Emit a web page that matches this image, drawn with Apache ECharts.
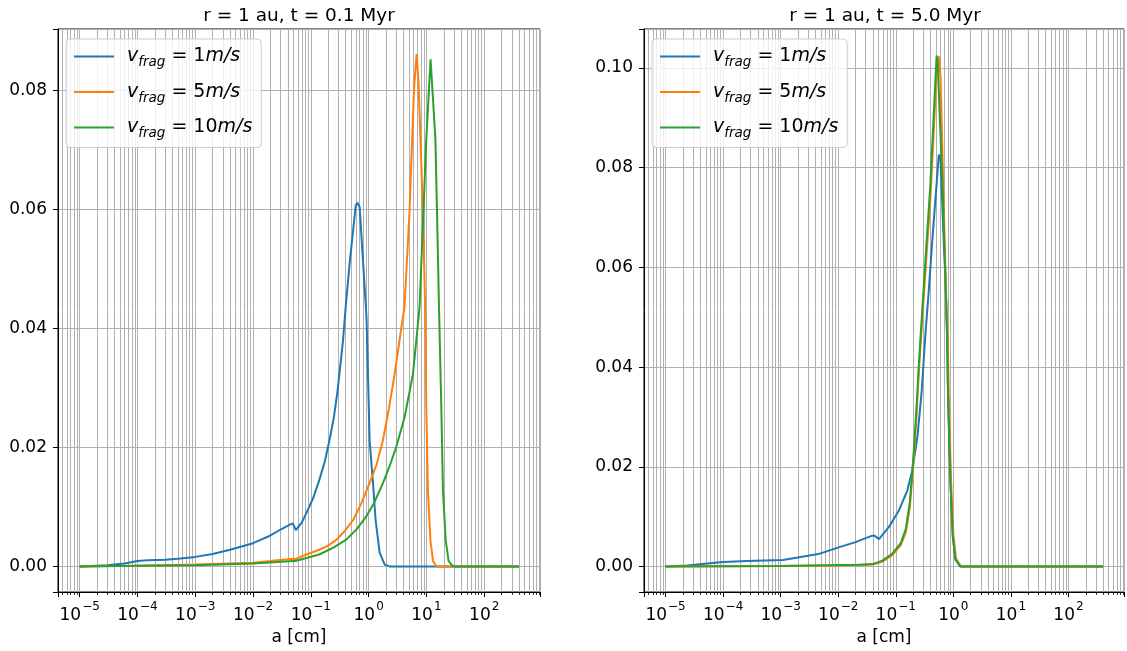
<!DOCTYPE html>
<html><head><meta charset="utf-8">
<script src="https://cdn.jsdelivr.net/npm/echarts@6/dist/echarts.min.js"></script>
<style>html,body{margin:0;padding:0;background:#fff}#c{width:1127px;height:651px}</style>
</head><body><div id="c"></div>
<script>
// ---------------- data ----------------
const titles = ['r = 1 au, t = 0.1 Myr', 'r = 1 au, t = 5.0 Myr'];
const vfrag = ['1', '5', '10'];
const colors = ['#1f77b4', '#ff7f0e', '#2ca02c'];
const xAxisName = 'a [cm]';

// t = 0.1 Myr
const a_t01_v1 = [1e-5, 3e-5, 6e-5, 1e-4, 1.5e-4, 3e-4, 5e-4, 1e-3, 2e-3, 4e-3, 1e-2, 2e-2, 3e-2, 4.5e-2, 4.9e-2, 5.5e-2, 7e-2, 8.4e-2, 0.11, 0.14, 0.174, 0.21, 0.25, 0.29, 0.36, 0.40, 0.47, 0.56, 0.60, 0.64, 0.68, 0.70, 0.75, 0.92, 1.04, 1.19, 1.32, 1.55, 1.9, 2.3, 400];
const y_t01_v1 = [0, 0.0002, 0.0005, 0.0009, 0.00105, 0.0011, 0.0013, 0.0016, 0.0021, 0.0028, 0.0039, 0.0052, 0.0062, 0.0071, 0.0072, 0.0061, 0.0074, 0.0090, 0.0115, 0.0145, 0.0176, 0.0212, 0.0250, 0.0295, 0.0379, 0.0435, 0.051, 0.058, 0.0607, 0.0611, 0.0609, 0.0604, 0.0556, 0.0418, 0.0212, 0.0140, 0.0078, 0.0023, 0.0003, 0, 0];

const a_t01_v5 = [1e-5, 1e-4, 1e-3, 1e-2, 2e-2, 4.9e-2, 5.4e-2, 7e-2, 0.14, 0.2, 0.28, 0.39, 0.54, 0.74, 1.04, 1.38, 1.77, 2.24, 2.82, 3.68, 4.17, 5.1, 6.1, 6.76, 7.3, 8.7, 9.6, 9.95, 10.6, 11.7, 13.0, 14.8, 400];
const y_t01_v5 = [0, 0.0001, 0.0003, 0.0006, 0.0009, 0.0013, 0.0012, 0.0017, 0.0028, 0.0035, 0.0045, 0.0060, 0.0078, 0.0105, 0.0140, 0.0172, 0.0212, 0.0265, 0.0323, 0.0401, 0.0435, 0.0596, 0.0802, 0.0861, 0.0813, 0.0596, 0.0418, 0.0268, 0.0129, 0.0045, 0.0009, 0, 0];

const a_t01_v10 = [1e-5, 1e-4, 1e-3, 1e-2, 4.9e-2, 5.4e-2, 0.14, 0.25, 0.41, 0.63, 0.91, 1.26, 1.77, 2.34, 3.01, 4.2, 5.85, 7.6, 8.5, 9.95, 11.8, 12.3, 14.3, 15.6, 16.5, 18.1, 19.3, 21.5, 24.2, 28.8, 400];
const y_t01_v10 = [0, 0.0001, 0.0002, 0.0005, 0.0009, 0.0009, 0.0020, 0.0032, 0.0045, 0.0063, 0.0084, 0.0108, 0.0140, 0.0170, 0.0201, 0.0251, 0.0323, 0.0435, 0.0551, 0.0718, 0.0852, 0.0824, 0.0718, 0.0551, 0.0435, 0.0268, 0.0129, 0.0045, 0.0009, 0, 0];

// t = 5.0 Myr
const a_t5_v1 = [1e-5, 2.4e-5, 6.5e-5, 1e-4, 2.6e-4, 1.1e-3, 4.5e-3, 1.05e-2, 2e-2, 3e-2, 3.94e-2, 4.3e-2, 5.1e-2, 7.65e-2, 0.114, 0.159, 0.194, 0.237, 0.282, 0.33, 0.366, 0.436, 0.56, 0.60, 0.676, 0.733, 0.78, 0.81, 0.893, 0.98, 1.09, 1.33, 400];
const y_t5_v1 = [0, 0.0002, 0.0007, 0.0009, 0.0011, 0.0013, 0.0025, 0.0039, 0.0049, 0.0057, 0.0062, 0.0062, 0.0055, 0.0080, 0.0113, 0.0153, 0.0193, 0.0259, 0.0352, 0.0472, 0.0538, 0.0662, 0.0826, 0.0815, 0.0660, 0.0570, 0.0460, 0.0339, 0.0166, 0.0060, 0.0014, 0, 0];

const a_t5_v5 = [1e-5, 1e-4, 1e-3, 1e-2, 4e-2, 5.86e-2, 8.73e-2, 0.122, 0.149, 0.175, 0.199, 0.227, 0.253, 0.29, 0.40, 0.52, 0.56, 0.60, 0.67, 0.74, 0.80, 0.83, 0.91, 1.0, 1.11, 1.36, 400];
const y_t5_v5 = [0, 0.00005, 0.0001, 0.0002, 0.0004, 0.0010, 0.0023, 0.0043, 0.0068, 0.0118, 0.0195, 0.0295, 0.0395, 0.0500, 0.0740, 0.1005, 0.1023, 0.0980, 0.0760, 0.0560, 0.0460, 0.0350, 0.0175, 0.0065, 0.0016, 0, 0];

const a_t5_v10 = [1e-5, 1e-4, 1e-3, 1e-2, 2e-2, 4e-2, 5.86e-2, 8.73e-2, 0.122, 0.149, 0.175, 0.199, 0.227, 0.253, 0.29, 0.397, 0.512, 0.535, 0.65, 0.733, 0.78, 0.81, 0.893, 0.98, 1.09, 1.33, 400];
const y_t5_v10 = [0, 0.00005, 0.0001, 0.0003, 0.0003, 0.0005, 0.0012, 0.0026, 0.0047, 0.0075, 0.0128, 0.0208, 0.0310, 0.0410, 0.0520, 0.0763, 0.1025, 0.1010, 0.0760, 0.0570, 0.0460, 0.0339, 0.0166, 0.0060, 0.0014, 0, 0];

// ---------------- chart ----------------
const FONT = 'DejaVu Sans';
const TICK_FS = 17;
const panels = [
  { a: [a_t01_v1, a_t01_v5, a_t01_v10], y: [y_t01_v1, y_t01_v5, y_t01_v10], ymin: -0.0043, ymax: 0.0903 },
  { a: [a_t5_v1, a_t5_v5, a_t5_v10], y: [y_t5_v1, y_t5_v5, y_t5_v10], ymin: -0.0051, ymax: 0.1078 }
];
const gridLeft = [58, 644];
const gridWidth = 482;
const gridTop = 29, gridHeight = 567;
const xMin = 4.22e-6, xMax = 923;
const seriesNames = vfrag.map(v => 'vfrag=' + v + 'm/s');
const gridColor = '#b0b0b0';

function xLabel(v) {
  const e = Math.log10(v);
  const r = Math.round(e);
  if (Math.abs(e - r) > 1e-6) return '';
  const s = r < 0 ? '\u2212' + Math.abs(r) : String(r);
  return '{b|10}{e|' + s + '}';
}
function yLabel(v) {
  const k = v / 0.02;
  if (Math.abs(k - Math.round(k)) > 1e-6) return '';
  return v.toFixed(2);
}

const grids = [], xAxes = [], yAxes = [], series = [], legends = [], graphics = [];
panels.forEach((p, i) => {
  grids.push({ left: gridLeft[i], top: gridTop, width: gridWidth, height: gridHeight,
    show: true, borderColor: '#000', borderWidth: 1, backgroundColor: 'transparent' });
  xAxes.push({
    type: 'log', logBase: 10, gridIndex: i, min: xMin, max: xMax,
    name: xAxisName, nameLocation: 'middle', nameGap: 37,
    nameTextStyle: { fontFamily: FONT, fontSize: TICK_FS, color: '#000' },
    axisLine: { onZero: false, lineStyle: { color: '#000', width: 1 } },
    axisTick: { show: true, inside: false, length: 5, lineStyle: { color: '#000', width: 1 } },
    minorTick: { show: true, splitNumber: 9, length: 3, lineStyle: { color: '#000', width: 0.8 } },
    splitLine: { show: true, lineStyle: { color: gridColor, width: 1 } },
    minorSplitLine: { show: true, lineStyle: { color: gridColor, width: 1 } },
    axisLabel: { interval: 0, margin: 8, formatter: xLabel, color: '#000',
      rich: {
        b: { fontFamily: FONT, fontSize: TICK_FS, color: '#000', lineHeight: 24, verticalAlign: 'bottom' },
        e: { fontFamily: FONT, fontSize: 12, color: '#000', lineHeight: 24, verticalAlign: 'top', padding: [1, 0, 0, 1] }
      } }
  });
  yAxes.push({
    type: 'value', gridIndex: i, min: p.ymin, max: p.ymax, splitNumber: 5,
    axisLine: { show: true, onZero: false, lineStyle: { color: '#000', width: 1 } },
    axisTick: { show: true, inside: false, length: 5, lineStyle: { color: '#000', width: 1 } },
    splitLine: { show: true, lineStyle: { color: gridColor, width: 1 } },
    axisLabel: { interval: 0, margin: 11, formatter: yLabel, fontFamily: FONT, fontSize: TICK_FS, color: '#000' }
  });
  p.a.forEach((arr, k) => {
    series.push({
      type: 'line', name: seriesNames[k], xAxisIndex: i, yAxisIndex: i,
      data: arr.map((x, j) => [x, p.y[k][j]]),
      symbol: 'none', showSymbol: false, smooth: false, animation: false,
      lineStyle: { color: colors[k], width: 2 }, itemStyle: { color: colors[k] },
      z: 3 + k
    });
  });
  legends.push({
    data: seriesNames.map((n, k) => ({ name: n, icon: 'rect', itemStyle: { color: colors[k] } })),
    orient: 'vertical', left: gridLeft[i] + 8, top: 39,
    itemWidth: 40, itemHeight: 2, itemGap: 13,
    padding: [8, 9, 7, 8],
    backgroundColor: 'rgba(255,255,255,0.8)', borderColor: '#cccccc', borderWidth: 1, borderRadius: 4,
    selectedMode: false,
    formatter: name => {
      const v = vfrag[seriesNames.indexOf(name)];
      return '{it|v}{sub|frag}{eq|=}{rm|' + v + '}{it|m/s}';
    },
    textStyle: {
      padding: [0, 0, 0, 8],
      rich: {
        it: { fontFamily: FONT, fontStyle: 'italic', fontSize: 19, color: '#000', lineHeight: 26 },
        sub: { fontFamily: FONT, fontStyle: 'italic', fontSize: 13.5, color: '#000', lineHeight: 26, verticalAlign: 'bottom', padding: [0, 6, 0, 0] },
        eq: { fontFamily: FONT, fontSize: 19, color: '#000', lineHeight: 26, padding: [0, 6, 0, 0] },
        rm: { fontFamily: FONT, fontSize: 19, color: '#000', lineHeight: 26 }
      }
    }
  });
  graphics.push({
    type: 'text', x: gridLeft[i] + gridWidth / 2, y: 16,
    style: { text: titles[i], textAlign: 'center', textVerticalAlign: 'middle',
      font: '18.5px "DejaVu Sans"', fill: '#000' }
  });
});

const chart = echarts.init(document.getElementById('c'), null, { renderer: 'canvas' });
chart.setOption({
  backgroundColor: '#fff',
  animation: false,
  grid: grids, xAxis: xAxes, yAxis: yAxes, series: series,
  legend: legends, graphic: graphics
});
</script>
</body></html>
